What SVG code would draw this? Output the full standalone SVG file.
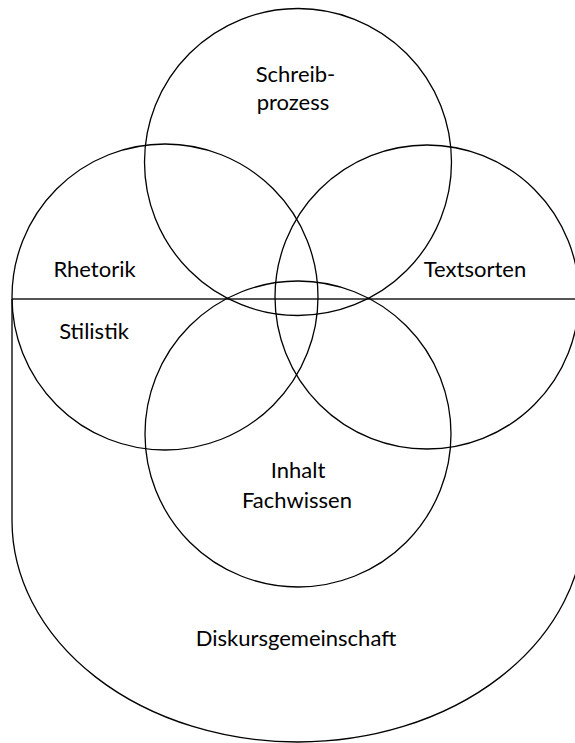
<svg xmlns="http://www.w3.org/2000/svg" width="575" height="743" viewBox="0 0 575 743">
  <style>
    .ring { fill: none; stroke: #000; stroke-width: 1.3; }
    .rule { fill: none; stroke: #555; stroke-width: 2; }
    .label { font-family: Lato, "Open Sans", "Liberation Sans", sans-serif; font-size: 22px; fill: #000; text-anchor: middle; }
  </style>
  <rect width="575" height="743" fill="#fff"/>

  <!-- outer community shape: open-topped box with elliptical bottom -->
  <g id="diskursgemeinschaft">
    <path class="ring" d="M12,299 V520.5 A286,221.5 0 0 0 584,520.5 V299"/>
    <text class="label" x="296" y="646">Diskursgemeinschaft</text>
  </g>

  <!-- dividing rule between rhetoric and stylistics -->
  <g id="connectors">
    <line class="rule" x1="12" y1="299" x2="575" y2="299"/>
  </g>

  <g id="schreibprozess">
    <circle class="ring" cx="298" cy="162" r="153.5"/>
    <text class="label" x="295.5" y="82">Schreib-</text>
    <text class="label" x="293" y="110">prozess</text>
  </g>

  <g id="rhetorik">
    <circle class="ring" cx="165" cy="297" r="153"/>
    <text class="label" x="94.5" y="277">Rhetorik</text>
    <text class="label" x="94" y="339">Stilistik</text>
  </g>

  <g id="textsorten">
    <circle class="ring" cx="427" cy="297" r="152"/>
    <text class="label" x="475" y="277">Textsorten</text>
  </g>

  <g id="inhalt">
    <circle class="ring" cx="298" cy="434" r="153"/>
    <text class="label" x="298" y="478">Inhalt</text>
    <text class="label" x="297" y="508">Fachwissen</text>
  </g>
</svg>
